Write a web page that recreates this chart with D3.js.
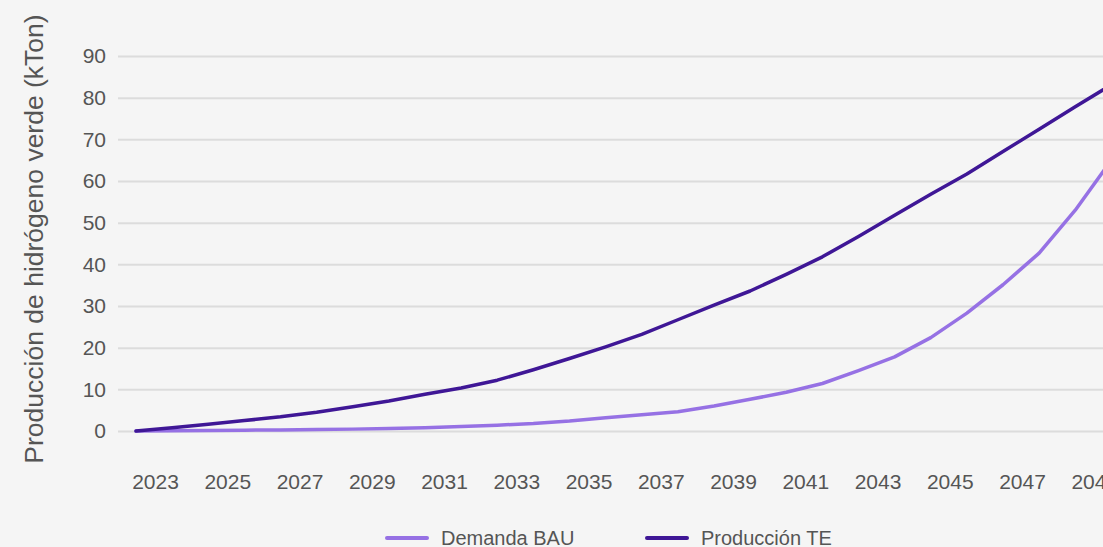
<!DOCTYPE html>
<html>
<head>
<meta charset="utf-8">
<script src="https://cdn.jsdelivr.net/npm/d3@7"></script>
<style>
  html, body { margin: 0; padding: 0; background: #f5f5f5; overflow: hidden; }
  svg { display: block; }
  text { font-family: "Liberation Sans", Arial, Helvetica, sans-serif; fill: #555555; }
</style>
</head>
<body>
<svg id="chart" width="1103" height="547"></svg>
<script>
const years = d3.range(2023, 2051);
const demandaBAU = [0, 0.05, 0.1, 0.2, 0.25, 0.35, 0.45, 0.6, 0.8, 1.1, 1.4, 1.8, 2.4, 3.2, 3.9, 4.6, 6.0, 7.6, 9.3, 11.4, 14.5, 17.8, 22.4, 28.3, 35.1, 42.7, 53.0, 65.0];
const produccionTE = [0, 0.8, 1.6, 2.5, 3.4, 4.5, 5.8, 7.2, 8.8, 10.3, 12.2, 14.7, 17.4, 20.2, 23.2, 26.7, 30.2, 33.6, 37.6, 41.8, 46.7, 51.8, 56.8, 61.7, 67.1, 72.4, 77.8, 83.1];
const yTicks = [0, 10, 20, 30, 40, 50, 60, 70, 80, 90];
const xTickYears = years.filter(y => (y - 2023) % 2 === 0);
const seriesNames = ["Demanda BAU", "Producción TE"];
const colors = ["#9671e4", "#3f1796"];
const yTitle = "Producción de hidrógeno verde (kTon)";

const svg = d3.select("#chart");
const x = d3.scaleLinear().domain([2023, 2050]).range([136, 136 + 27 * 36.125]);
const y = d3.scaleLinear().domain([0, 90]).range([431, 56]);

// gridlines + y labels
const yAxis = d3.axisLeft(y).tickValues(yTicks).tickSize(-1000).tickPadding(12);
const gy = svg.append("g").attr("transform", "translate(118,0)").call(yAxis);
gy.select(".domain").remove();
gy.selectAll(".tick line").attr("stroke", "#dcdcdc").attr("stroke-width", 2);
gy.selectAll(".tick text").attr("font-size", 21).attr("fill", "#555").attr("font-family", "Liberation Sans, Arial, sans-serif").attr("x", -12);

// x axis labels
const xAxis = d3.axisBottom(x).tickValues(xTickYears).tickFormat(d3.format("d")).tickSize(0).tickPadding(0);
const gx = svg.append("g").attr("transform", "translate(19,0)").call(xAxis);
gx.select(".domain").remove();
gx.selectAll(".tick text").attr("font-size", 21).attr("fill", "#555").attr("font-family", "Liberation Sans, Arial, sans-serif")
  .attr("dy", null).attr("y", 489);

// y title
svg.append("text")
  .attr("transform", "translate(43,239) rotate(-90)")
  .attr("text-anchor", "middle")
  .attr("font-size", 26.5)
  .text(yTitle);

// lines
const line = d3.line().x((d, i) => x(years[i])).y(d => y(d));
[demandaBAU, produccionTE].forEach((s, k) => {
  svg.append("path").datum(s)
    .attr("d", line)
    .attr("fill", "none")
    .attr("stroke", colors[k])
    .attr("stroke-width", 3.5)
    .attr("stroke-linejoin", "round")
    .attr("stroke-linecap", "round");
});

// legend
const legendX = [386, 646];
seriesNames.forEach((name, k) => {
  const g = svg.append("g").attr("transform", `translate(${legendX[k]},538)`);
  g.append("line").attr("x1", 1).attr("x2", 41).attr("y1", 0).attr("y2", 0)
    .attr("stroke", colors[k]).attr("stroke-width", 4).attr("stroke-linecap", "round");
  g.append("text").attr("x", 55).attr("y", 7).attr("font-size", 20).text(name);
});
</script>
</body>
</html>
